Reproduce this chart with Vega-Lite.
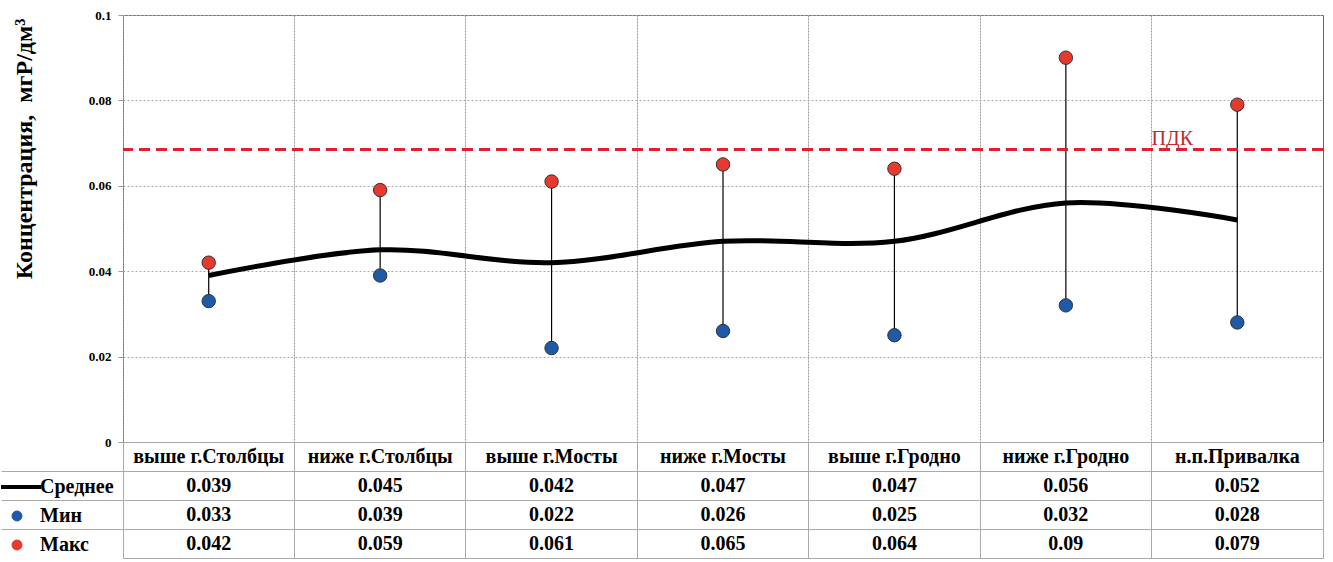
{
  "$schema": "https://vega.github.io/schema/vega-lite/v6.json",
  "padding": {"left": 0, "top": 8, "right": 5, "bottom": 0},
  "background": "white",
  "config": {"font": "Liberation Serif", "view": {"stroke": null}},
  "datasets": {
    "stations": [
      {"station": "выше г.Столбцы", "Среднее": 0.039, "Мин": 0.033, "Макс": 0.042},
      {"station": "ниже г.Столбцы", "Среднее": 0.045, "Мин": 0.039, "Макс": 0.059},
      {"station": "выше г.Мосты", "Среднее": 0.042, "Мин": 0.022, "Макс": 0.061},
      {"station": "ниже г.Мосты", "Среднее": 0.047, "Мин": 0.026, "Макс": 0.065},
      {"station": "выше г.Гродно", "Среднее": 0.047, "Мин": 0.025, "Макс": 0.064},
      {"station": "ниже г.Гродно", "Среднее": 0.056, "Мин": 0.032, "Макс": 0.09},
      {"station": "н.п.Привалка", "Среднее": 0.052, "Мин": 0.028, "Макс": 0.079}
    ],
    "limit": [{"station": "н.п.Привалка", "pdk": 0.0685, "label": "ПДК"}]
  },
  "spacing": 0,
  "bounds": "flush",
  "resolve": {"scale": {"x": "independent", "y": "independent", "color": "shared"}},
  "vconcat": [
    {
      "width": 1200,
      "height": 427,
      "view": {"stroke": "#666"},
      "data": {"name": "stations"},
      "layer": [
        {
          "mark": {"type": "rule", "color": "black", "strokeWidth": 1.2},
          "encoding": {
            "x": {"field": "station", "type": "nominal", "sort": null,
              "scale": {"type": "band", "paddingInner": 0, "paddingOuter": 0,
                "domain": ["выше г.Столбцы", "ниже г.Столбцы", "выше г.Мосты", "ниже г.Мосты", "выше г.Гродно", "ниже г.Гродно", "н.п.Привалка"]},
              "axis": {"title": null, "labels": false, "ticks": false, "domain": false, "grid": true, "bandPosition": 0, "gridColor": "#999", "gridDash": [2, 1]}},
            "y": {"field": "Мин", "type": "quantitative", "scale": {"domain": [0, 0.1]},
              "axis": {"title": "Концентрация,\u00a0 мгР/дм³", "values": [0, 0.02, 0.04, 0.06, 0.08, 0.1], "format": "~g",
                "labelFont": "Liberation Serif", "labelFontWeight": "bold", "labelFontSize": 13, "labelColor": "black",
                "labelPadding": 7, "tickSize": 5, "tickColor": "#999", "domain": false, "grid": true, "gridColor": "#aaa", "gridDash": [2, 2],
                "titleFont": "Liberation Serif", "titleFontSize": 24, "titleFontWeight": "bold", "titleColor": "black",
                "titleX": -111, "titleY": 3, "titleAlign": "right", "titleBaseline": "top", "titleAngle": -90}},
            "y2": {"field": "Макс"}
          }
        },
        {
          "data": {"name": "limit"},
          "mark": {"type": "rule", "color": "#e0202a", "strokeWidth": 3, "strokeDash": [11, 6]},
          "encoding": {"y": {"field": "pdk", "type": "quantitative"}}
        },
        {
          "data": {"name": "limit"},
          "mark": {"type": "text", "align": "left", "baseline": "bottom", "dx": 0, "dy": -1, "fontSize": 20, "color": "#c0282d", "font": "Liberation Serif"},
          "encoding": {
            "x": {"field": "station", "type": "nominal", "bandPosition": 0},
            "y": {"field": "pdk", "type": "quantitative"},
            "text": {"field": "label"}
          }
        },
        {
          "mark": {"type": "line", "strokeWidth": 5, "interpolate": "cardinal"},
          "encoding": {
            "x": {"field": "station", "type": "nominal"},
            "y": {"field": "Среднее", "type": "quantitative"},
            "color": {"datum": "Среднее", "type": "nominal",
              "scale": {"domain": ["Среднее", "Мин", "Макс"], "range": ["#000000", "#1f5aa6", "#e53a2f"]},
              "legend": {"title": null, "orient": "none", "legendX": -122, "legendY": 462, "direction": "vertical",
                "labelFont": "Liberation Serif", "labelFontSize": 20, "labelFontWeight": "bold", "labelColor": "black",
                "symbolSize": 1600, "rowPadding": 9, "labelOffset": 19, "padding": 0,
                "encode": {"symbols": {"update": {
                  "shape": {"signal": "datum.value === 'Среднее' ? 'stroke' : 'circle'"},
                  "size": {"signal": "datum.value === 'Среднее' ? 1600 : 100"},
                  "x": {"signal": "datum.value === 'Среднее' ? 20 : 16"},
                  "strokeWidth": {"signal": "datum.value === 'Среднее' ? 4 : 1"},
                  "stroke": {"signal": "datum.value === 'Среднее' ? '#000' : '#333'"},
                  "fill": {"signal": "datum.value === 'Мин' ? '#1f5aa6' : (datum.value === 'Макс' ? '#e53a2f' : 'transparent')"},
                  "opacity": {"value": 1}
                }}}}}
          }
        },
        {
          "transform": [{"fold": ["Мин", "Макс"], "as": ["series", "val"]}],
          "mark": {"type": "point", "filled": true, "size": 180, "stroke": "#333", "strokeWidth": 1, "opacity": 1},
          "encoding": {
            "x": {"field": "station", "type": "nominal"},
            "y": {"field": "val", "type": "quantitative"},
            "color": {"field": "series", "type": "nominal", "title": null, "legend": {"title": null}}
          }
        }
      ]
    },
    {
      "width": 1200,
      "height": 116,
      "view": {"stroke": "#aaa"},
      "data": {"name": "stations"},
      "layer": [
        {
          "mark": {"type": "text", "fontSize": 20, "fontWeight": "bold", "font": "Liberation Serif", "color": "black"},
          "encoding": {
            "x": {"field": "station", "type": "nominal", "sort": null,
              "scale": {"type": "band", "paddingInner": 0, "paddingOuter": 0,
                "domain": ["выше г.Столбцы", "ниже г.Столбцы", "выше г.Мосты", "ниже г.Мосты", "выше г.Гродно", "ниже г.Гродно", "н.п.Привалка"]},
              "axis": {"title": null, "labels": false, "ticks": false, "domain": false, "grid": true, "bandPosition": 0, "gridColor": "#aaa"}},
            "y": {"datum": "header", "type": "nominal",
              "scale": {"type": "band", "domain": ["header", "Среднее", "Мин", "Макс"], "paddingInner": 0, "paddingOuter": 0},
              "axis": {"title": null, "labels": false, "ticks": true, "tickSize": 122,
                "tickColor": {"condition": {"test": "datum.value === 'header'", "value": "transparent"}, "value": "#aaa"},
                "bandPosition": 0, "grid": true, "gridColor": "#aaa", "domain": false}},
            "text": {"field": "station"}
          }
        },
        {
          "transform": [{"fold": ["Среднее", "Мин", "Макс"], "as": ["row", "val"]}],
          "mark": {"type": "text", "fontSize": 20, "fontWeight": "bold", "font": "Liberation Serif", "color": "black"},
          "encoding": {
            "x": {"field": "station", "type": "nominal"},
            "y": {"field": "row", "type": "nominal"},
            "text": {"field": "val", "type": "nominal"}
          }
        }
      ]
    }
  ]
}
